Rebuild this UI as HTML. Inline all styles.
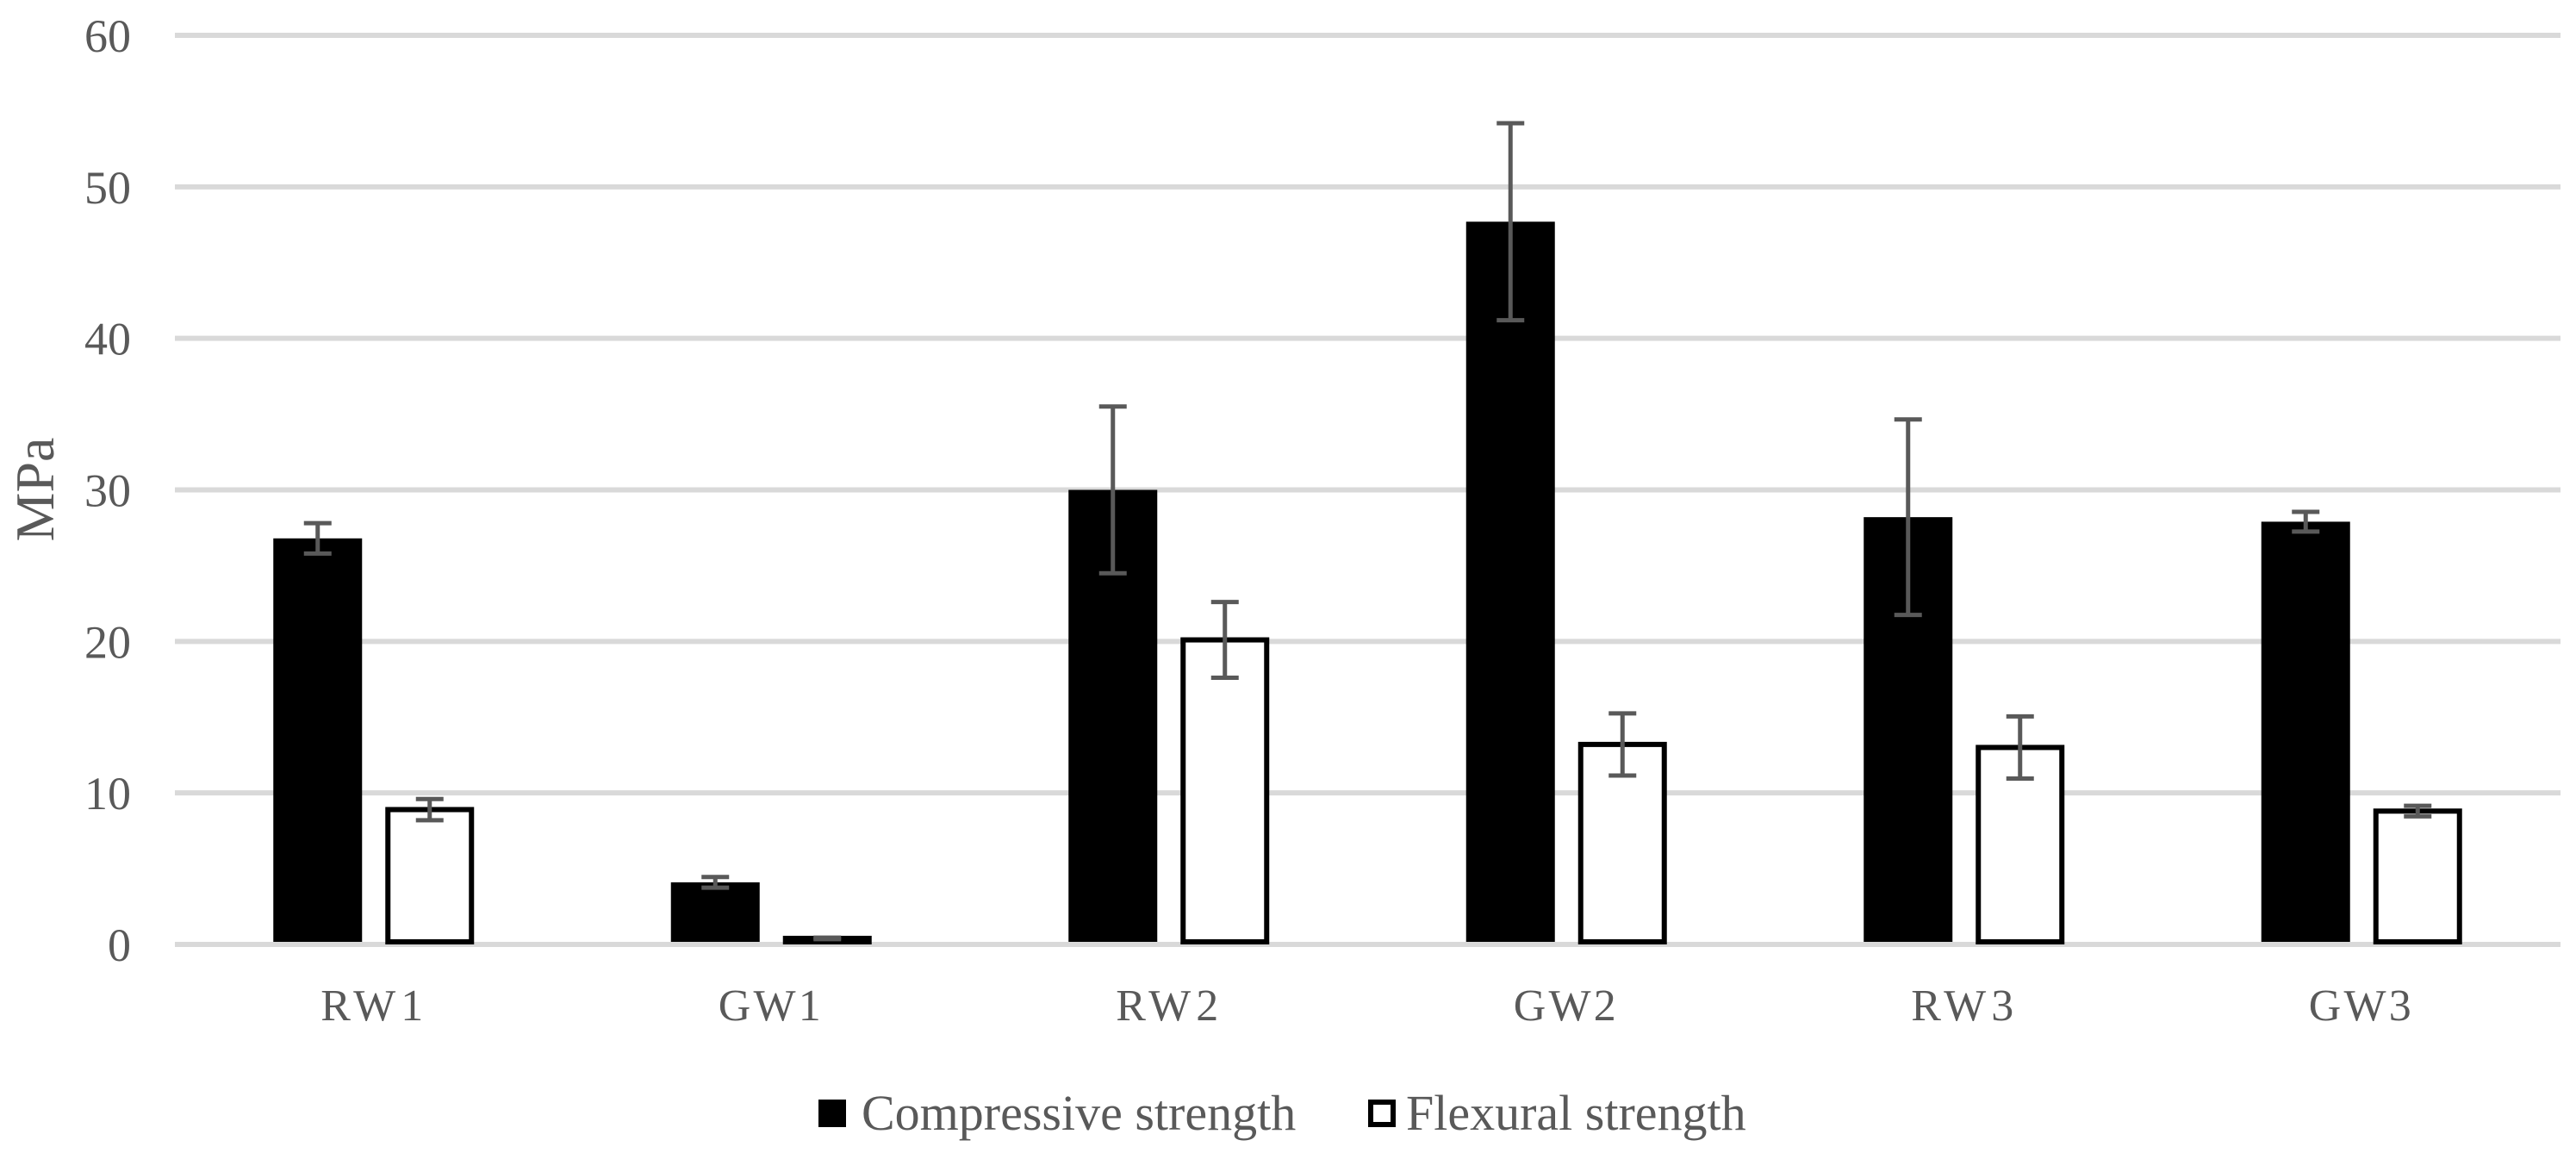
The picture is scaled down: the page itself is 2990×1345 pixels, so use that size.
<!DOCTYPE html>
<html><head><meta charset="utf-8"><style>
html,body{margin:0;padding:0;background:#fff;}
svg{display:block;font-family:"Liberation Serif",serif;}
</style></head><body>
<svg id="chart" width="2990" height="1345" viewBox="0 0 2990 1345" xmlns="http://www.w3.org/2000/svg">
<g id="grid"></g>
<g id="yticks"></g>
<text transform="translate(62,568) rotate(-90)" text-anchor="middle" font-size="64" fill="#595959">MPa</text>
<g id="bars"></g>
<g id="xlabels"></g>
<g>
  <g>
    <rect x="950" y="1276" width="32" height="32" fill="#000"/>
    <text x="1000" y="1311" font-size="58" fill="#595959">Compressive strength</text>
  </g>
  <g>
    <rect x="1591" y="1279" width="26" height="26" fill="#fff" stroke="#000" stroke-width="6"/>
    <text x="1632" y="1311" font-size="58" fill="#595959">Flexural strength</text>
  </g>
</g>
</svg>
<script>
const categories = ["RW1","GW1","RW2","GW2","RW3","GW3"];
const compressive = [26.8, 4.1, 30.0, 47.7, 28.2, 27.9];
const compressiveErr = [1.0, 0.35, 5.5, 6.5, 6.45, 0.65];
const flexural = [8.9, 0.4, 20.1, 13.2, 13.0, 8.8];
const flexuralErr = [0.7, 0.05, 2.5, 2.05, 2.05, 0.35];
const yTicks = [0, 10, 20, 30, 40, 50, 60];

const NS = "http://www.w3.org/2000/svg";
const plotL = 203, plotR = 2972, y0 = 1096, yTop = 41, yMax = 60;
const catW = (plotR - plotL) / categories.length;
function yScale(v){ return y0 - (v / yMax) * (y0 - yTop); }
function xCenter(i){ return plotL + catW * (i + 0.5); }
function mk(tag, attrs, parent){
  const el = document.createElementNS(NS, tag);
  for (const k in attrs) el.setAttribute(k, attrs[k]);
  parent.appendChild(el);
  return el;
}
const grid = document.getElementById('grid');
const yt = document.getElementById('yticks');
yTicks.forEach(t => {
  const y = yScale(t);
  const l = mk('line', {x1: plotL, x2: plotR, y1: y, y2: y, stroke: '#d9d9d9', 'stroke-width': 6}, grid);
  
  
  const tx = mk('text', {x: 152, y: y + 19, 'text-anchor': 'end', 'font-size': 54, fill: '#595959'}, yt);
  tx.textContent = String(t);
  
  
});
const bars = document.getElementById('bars');
const xl = document.getElementById('xlabels');
const bw = 103, off = 65;
function errBar(cx, v, e){
  const g = mk('g', {stroke: '#595959', 'stroke-width': 5}, bars);
  
  
  const yt1 = yScale(v + e), yb = yScale(v - e);
  mk('line', {x1: cx, x2: cx, y1: yt1, y2: yb}, g);
  mk('line', {x1: cx - 16, x2: cx + 16, y1: yt1, y2: yt1}, g);
  mk('line', {x1: cx - 16, x2: cx + 16, y1: yb, y2: yb}, g);
}
categories.forEach((c, i) => {
  const cx = xCenter(i);
  const bx = cx - off;
  const yc = yScale(compressive[i]);
  const r1 = mk('rect', {x: bx - bw/2, y: yc, width: bw, height: y0 - 3 - yc, fill: '#000'}, bars);
  
  
  errBar(bx, compressive[i], compressiveErr[i]);
  const fx = cx + off;
  const yf = yScale(flexural[i]);
  const r2 = mk('rect', {x: fx - bw/2 + 3, y: yf, width: bw - 6, height: Math.max(0, y0 - 3 - yf), fill: '#fff', stroke: '#000', 'stroke-width': 6}, bars);
  
  
  errBar(fx, flexural[i], flexuralErr[i]);
  const t = mk('text', {x: cx - 2, y: 1184, 'text-anchor': 'middle', 'font-size': 52, fill: '#595959', textLength: 119, lengthAdjust: 'spacing'}, xl);
  t.textContent = c;
  
  
});
</script>
</body></html>
